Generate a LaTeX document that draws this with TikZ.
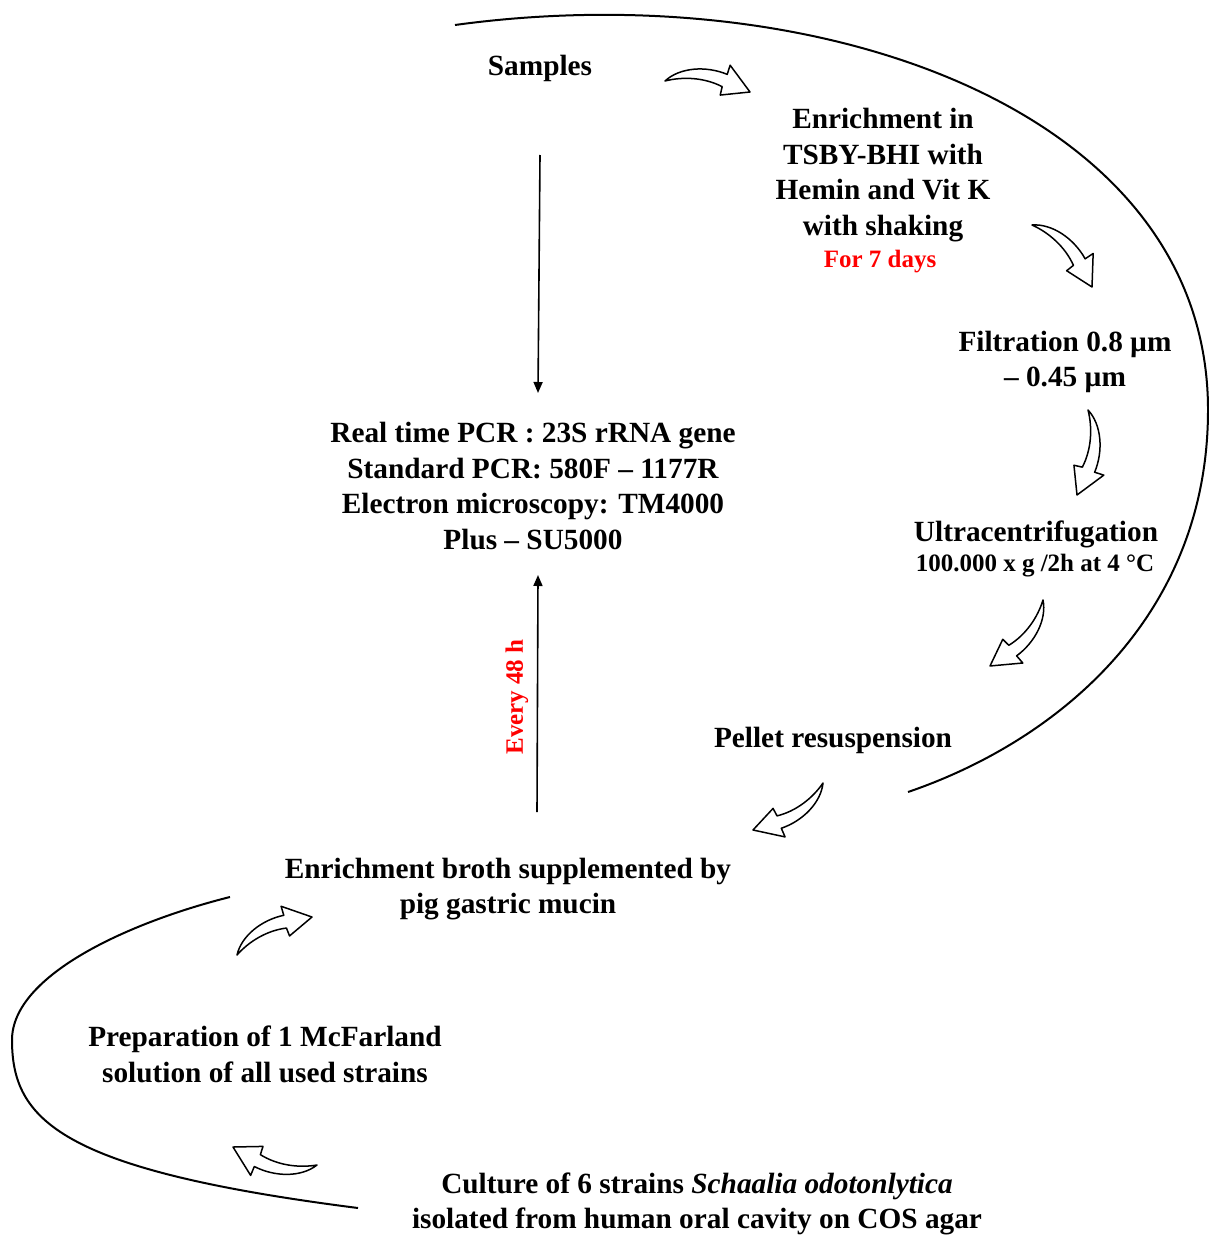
\documentclass[tikz,border=0pt]{standalone}
\usepackage{fontspec}
\setmainfont{Liberation Serif}
\usetikzlibrary{arrows.meta}
\tikzset{
  txt/.style={align=center,inner sep=0pt,font=\bfseries\fontsize{29.3}{35.7}\selectfont},
  small/.style={align=center,inner sep=0pt,font=\bfseries\fontsize{25}{30}\selectfont},
  redtxt/.style={small,text=red},
  bigcurve/.style={line width=2pt},
  plainarrow/.style={line width=1.6pt,-{Triangle[length=11pt,width=9pt]}},
  blockarrow/.style={draw,line width=1.5pt,fill=white,line join=round},
}
\newcommand\curvedblock[4]{%
  \pgfmathsetmacro\cbang{atan2(-(#4-#2),#3-#1)}%
  \pgfmathsetmacro\cblen{veclen(#3-#1,#4-#2)}%
  \begin{scope}[shift={(#1,#2)},rotate=\cbang,scale=\cblen,yscale=-1]
    \draw[blockarrow] (0,0) .. controls (0.15,0.18) and (0.45,0.24) .. (0.71,0.17)
      -- (0.73,0.28) -- (1,0) -- (0.66,-0.08) -- (0.67,0.02)
      .. controls (0.45,0.1) and (0.2,0.08) .. (0,0) -- cycle;
  \end{scope}}
\begin{document}
\begin{tikzpicture}[x=1pt,y=-1pt]
\useasboundingbox (0,0) rectangle (1209,1236);

% big curves
\draw[bigcurve] (455,25) .. controls (820,-25) and (1208,110) .. (1208,410)
  .. controls (1208,615) and (1060,740) .. (908,792);
\draw[bigcurve] (230,897) .. controls (130,922) and (12,975) .. (12,1040)
  .. controls (12,1120) and (60,1170) .. (358,1208);

% texts
\node[txt] (samples) at (540,68) {Samples};
\node[txt] (enrich) at (883,175) {Enrichment in\\TSBY-BHI with\\Hemin and Vit K\\with shaking};
\node[redtxt] (days) at (880,262) {For 7 days};
\node[txt] (filt) at (1065,362) {Filtration 0.8 µm\\– 0.45 µm};
\node[txt] (ultra) at (1036,534) {Ultracentrifugation};
\node[small] (ultrap) at (1035,566) {100.000 x g /2h at 4 °C};
\node[txt] (pellet) at (833,740) {Pellet resuspension};
\node[txt] (pcr) at (533,486) {Real time PCR : 23S rRNA gene\\Standard PCR: 580F – 1177R\\Electron microscopy: TM4000\\Plus – SU5000};
\node[txt] (broth) at (508,889) {Enrichment broth supplemented by\\pig gastric mucin};
\node[txt] (prep) at (265,1054) {Preparation of 1 McFarland\\solution of all used strains};
\node[txt] (culture) at (697,1204) {Culture of 6 strains \textit{Schaalia odotonlytica}\\isolated from human oral cavity on COS agar};
\node[redtxt,rotate=90] (every) at (517,697) {Every 48 h};

% straight arrows
\coordinate (d1) at (540,155);
\coordinate (d2) at (538,393);
\coordinate (u1) at (537,812);
\coordinate (u2) at (538,575);
\draw[plainarrow] (d1) -- (d2);
\draw[plainarrow] (u1) -- (u2);

% curved block arrows
\curvedblock{665}{81}{750}{92}
\curvedblock{1032}{225}{1092}{287}
\curvedblock{1088}{410}{1077}{495}
\curvedblock{1043}{600}{990}{666}
\curvedblock{823}{783}{753}{830}
\curvedblock{237}{955}{312}{917}
\curvedblock{317}{1165}{233}{1147}
\end{tikzpicture}
\end{document}
